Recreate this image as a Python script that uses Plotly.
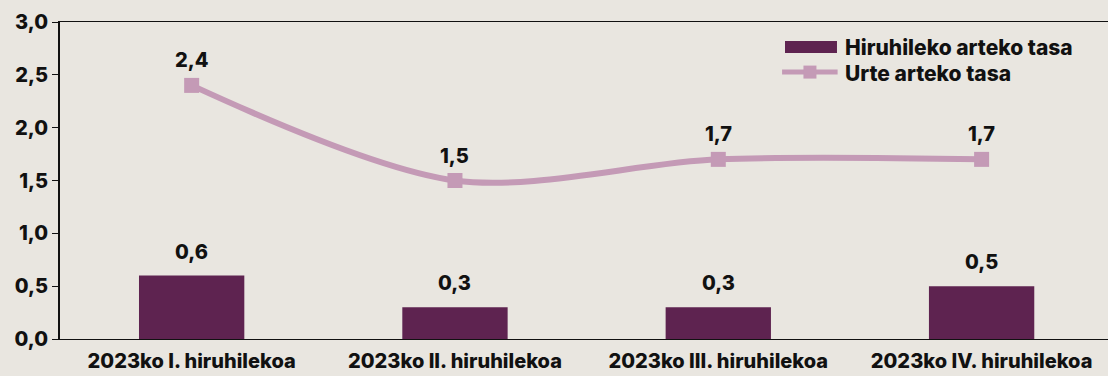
import plotly.graph_objects as go

categories = ["2023ko I. hiruhilekoa", "2023ko II. hiruhilekoa",
              "2023ko III. hiruhilekoa", "2023ko IV. hiruhilekoa"]
quarterly_rate = [0.6, 0.3, 0.3, 0.5]
yearly_rate = [2.4, 1.5, 1.7, 1.7]
y_ticks = [0.0, 0.5, 1.0, 1.5, 2.0, 2.5, 3.0]
series_names = ["Hiruhileko arteko tasa", "Urte arteko tasa"]

BG = "#E9E6E0"
BAR = "#5E2350"
LINE = "#C49AB6"
INK = "#111111"
FONT = "Inter"
FS = 20
TXT = dict(family=FONT, size=FS, color=INK, weight=800)
LEG_TXT = dict(family=FONT, size=21, color=INK, weight=800)

def fmt(v):
    return f"{v:.1f}".replace(".", ",")

fig = go.Figure()
fig.add_trace(go.Bar(
    x=categories, y=quarterly_rate, name=series_names[0],
    marker=dict(color=BAR, line=dict(width=0)), width=0.4,
    showlegend=False,
))
fig.add_trace(go.Scatter(
    x=categories, y=yearly_rate, name=series_names[1],
    mode="lines+markers",
    line=dict(color=LINE, width=6, shape="spline", smoothing=0.9),
    marker=dict(symbol="square", size=15, color=LINE),
    showlegend=False, cliponaxis=False,
))

# value labels above bars and line markers
for cat, v in zip(categories, quarterly_rate):
    fig.add_annotation(x=cat, y=v, text=fmt(v), showarrow=False,
                       yanchor="middle", yshift=24, font=TXT)
for cat, v in zip(categories, yearly_rate):
    fig.add_annotation(x=cat, y=v, text=fmt(v), showarrow=False,
                       yanchor="middle", yshift=25, font=TXT)

# legend keys (paper coordinates relative to the plot area)
fig.add_shape(type="rect", xref="paper", yref="paper",
              x0=0.6918, x1=0.7414, y0=0.902, y1=0.940,
              fillcolor=BAR, line=dict(width=0))
fig.add_shape(type="line", xref="paper", yref="paper",
              x0=0.689, x1=0.742, y0=0.842, y1=0.842,
              line=dict(color=LINE, width=5))
fig.add_shape(type="rect", xref="paper", yref="paper",
              xsizemode="pixel", ysizemode="pixel",
              xanchor=0.7156, yanchor=0.842,
              x0=-6.5, x1=6.5, y0=-6.5, y1=6.5,
              fillcolor=LINE, line=dict(width=0))
fig.add_annotation(xref="paper", yref="paper", x=0.7472, y=0.921,
                   text=series_names[0], showarrow=False,
                   xanchor="left", yanchor="middle", font=LEG_TXT)
fig.add_annotation(xref="paper", yref="paper", x=0.7472, y=0.839,
                   text=series_names[1], showarrow=False,
                   xanchor="left", yanchor="middle", font=LEG_TXT)

fig.update_layout(
    width=1108, height=376,
    margin=dict(l=60, r=0, t=22, b=37),
    paper_bgcolor=BG, plot_bgcolor=BG,
    font=TXT,
    separators=",.",
    showlegend=False,
    bargap=0.6,
)
fig.update_xaxes(
    range=[-0.5, 3.48], showgrid=False, showline=True, linecolor=INK,
    linewidth=1, mirror=True, ticks="", tickfont=TXT, ticklabelstandoff=4,
)
fig.update_yaxes(
    range=[0, 3.0], tickvals=y_ticks, ticktext=[fmt(v) for v in y_ticks],
    showgrid=False, zeroline=False, showline=True, linecolor=INK, linewidth=2,
    ticks="outside", ticklen=6, tickwidth=1, tickcolor=INK, tickfont=TXT,
)

fig.write_html("out.html")
